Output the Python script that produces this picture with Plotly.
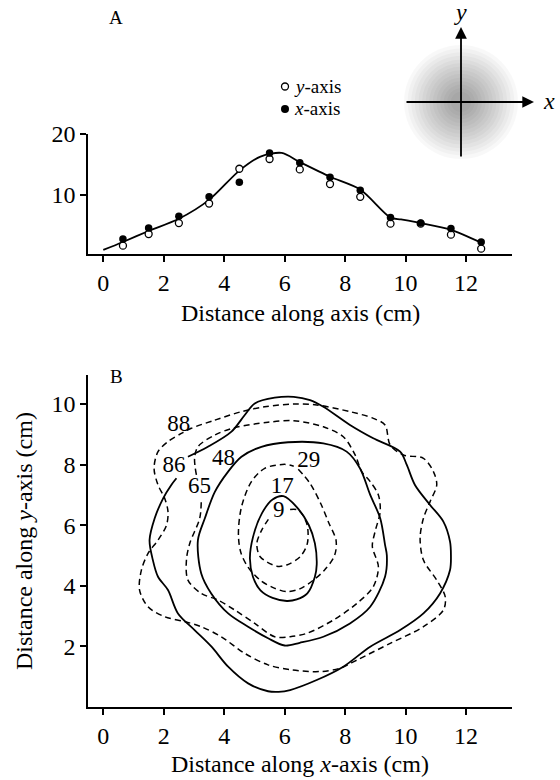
import plotly.graph_objects as go

W, H = 560, 780
FONT = "Liberation Serif, Times New Roman, serif"

# ---------------- Panel A data ----------------
dist_x = [0.65, 1.5, 2.5, 3.5, 4.5, 5.5, 6.5, 7.5, 8.5, 9.5, 10.5, 11.5, 12.5]
x_axis_vals = [2.8, 4.6, 6.5, 9.7, 12.1, 16.9, 15.3, 12.9, 10.8, 6.3, 5.4, 4.5, 2.3]
dist_y = [0.65, 1.5, 2.5, 3.5, 4.5, 5.5, 6.5, 7.5, 8.5, 9.5, 10.5, 11.5, 12.5]
y_axis_vals = [1.7, 3.6, 5.4, 8.6, 14.3, 15.9, 14.2, 11.8, 9.7, 5.3, 5.3, 3.5, 1.2]
fit_x = [0, 0.65, 1.5, 2.5, 3.5, 4.5, 5.2, 5.9, 6.5, 7.5, 8.5, 9.5, 9.85, 10.5, 11.5, 12.5]
fit_y = [1.0, 2.3, 4.1, 6.1, 9.2, 14.0, 16.3, 16.9, 15.4, 13.0, 10.9, 6.3, 6.0, 5.4, 4.3, 2.2]
a_xticks = [0, 2, 4, 6, 8, 10, 12]
a_yticks = [10, 20]

# ---------------- Panel B contour data ----------------
c9_x = [6.18, 6.45, 6.73, 6.75, 6.51, 6.07, 5.74, 5.19, 5.08, 5.24, 5.52]
c9_y = [6.52, 6.5, 6.06, 5.4, 4.96, 4.69, 4.65, 4.96, 5.4, 5.84, 6.28]

c17_x = [5.96, 6.4, 6.8, 7.0, 7.06, 7.0, 6.75, 6.4, 6.07, 5.6, 5.2, 4.95, 4.85, 4.95, 5.25, 5.6, 5.96]
c17_y = [6.96, 6.6, 6.0, 5.4, 4.7, 4.3, 3.75, 3.55, 3.5, 3.6, 3.85, 4.3, 4.9, 5.6, 6.4, 6.85, 6.96]

c29_x = [6.45, 6.84, 7.2, 7.45, 7.7, 7.65, 7.3, 6.95, 6.5, 6.07, 5.6, 5.19, 4.8, 4.55, 4.47, 4.57, 4.9, 5.34, 6.0, 6.3]
c29_y = [7.85, 7.38, 6.7, 6.1, 5.5, 5.0, 4.5, 4.19, 3.9, 3.81, 3.95, 4.19, 4.6, 5.1, 5.7, 6.6, 7.44, 7.88, 8.01, 7.95]

c48_x = [3.36, 3.69, 4.13, 4.57, 5.23, 6.11, 7.28, 8.05, 8.49, 8.83, 9.16, 9.32, 9.38, 9.32, 8.83, 8.16, 7.28,
         6.5, 6.0, 5.45, 4.79, 4.13, 3.57, 3.24, 3.13, 3.36]
c48_y = [6.23, 7.1, 7.77, 8.26, 8.59, 8.74, 8.7, 8.43, 7.88, 7.0, 6.23, 5.35, 5.0, 4.3, 3.31, 2.76, 2.32,
         2.12, 2.03, 2.27, 2.65, 3.09, 3.75, 4.41, 5.51, 6.23]

c65_x = [3.08, 3.02, 3.13, 3.69, 4.35, 5.45, 6.3, 7.28, 7.94, 8.33, 8.55, 8.83, 9.1, 9.16, 8.99, 8.9, 9.1,
         8.93, 8.39, 7.61, 6.73, 6.18, 5.67, 5.01, 4.35, 3.8, 3.24, 2.8, 2.75, 2.86, 3.19, 3.24]
c65_y = [7.66, 8.21, 8.59, 8.98, 9.22, 9.4, 9.45, 9.25, 8.92, 8.32, 7.77, 7.44, 7.0, 6.45, 5.79, 5.3, 4.63,
         3.97, 3.42, 2.87, 2.43, 2.32, 2.32, 2.76, 3.2, 3.53, 3.75, 4.19, 4.85, 5.4, 6.23, 6.78]

c86_x = [2.8, 3.46, 4.24, 4.68, 5.01, 5.67, 6.3, 6.84, 7.28, 8.16, 8.93, 9.82, 10.04, 10.31, 10.81, 11.25,
         11.47, 11.5, 11.47, 11.14, 10.59, 9.82, 8.83, 7.94, 7.06, 6.18, 5.8, 5.45, 4.79, 4.13, 3.58, 3.02,
         2.47, 2.14, 1.81, 1.64, 1.53, 1.7, 1.98, 2.25, 2.42]
c86_y = [8.26, 8.59, 9.09, 9.64, 10.02, 10.21, 10.24, 10.13, 9.91, 9.31, 8.87, 8.43, 7.99, 7.33, 6.67, 6.12,
         5.46, 5.0, 4.52, 3.75, 3.09, 2.54, 1.99, 1.33, 0.89, 0.56, 0.5, 0.52, 0.78, 1.33, 1.99, 2.54,
         3.09, 3.86, 4.3, 4.85, 5.51, 6.23, 6.89, 7.33, 7.55]

c88_x = [2.91, 3.69, 4.57, 5.34, 6.3, 7.06, 8.16, 8.93, 9.32, 9.49, 9.93, 10.59, 10.92, 11.03, 10.81, 10.59,
         10.48, 10.59, 11.03, 11.31, 11.25, 10.59, 9.49, 8.39, 7.83, 7.17, 6.25, 5.45, 4.68, 3.9, 3.24, 2.69,
         2.03, 1.48, 1.2, 1.26, 1.48, 1.81, 2.09, 2.14, 2.03, 1.81, 1.68, 1.81, 2.14, 2.58, 2.91]
c88_y = [9.2, 9.47, 9.75, 9.91, 10.0, 9.97, 9.75, 9.53, 9.31, 8.65, 8.32, 8.21, 7.77, 7.33, 6.78, 6.23,
         5.57, 4.85, 4.19, 3.64, 3.2, 2.65, 2.1, 1.55, 1.28, 1.17, 1.22, 1.39, 1.77, 2.32, 2.65, 2.82,
         2.98, 3.31, 3.86, 4.52, 5.07, 5.51, 6.0, 6.45, 6.89, 7.33, 7.88, 8.43, 8.76, 9.03, 9.2]

contour_labels = ["88", "86", "48", "65", "29", "17", "9"]
label_x = [2.5, 2.34, 3.98, 3.18, 6.8, 5.92, 5.8]
label_y = [9.31, 7.95, 8.18, 7.24, 8.12, 7.27, 6.45]
b_xticks = [0, 2, 4, 6, 8, 10, 12]
b_yticks = [2, 4, 6, 8, 10]


def px(x):
    return x / W


def py(y):
    return 1 - y / H


fig = go.Figure()

# Panel A
fig.add_trace(go.Scatter(x=fit_x, y=fit_y, mode="lines", line=dict(color="black", width=1.8, shape="spline", smoothing=0.8),
                         xaxis="x", yaxis="y", showlegend=False, hoverinfo="skip"))
fig.add_trace(go.Scatter(x=dist_y, y=y_axis_vals, mode="markers", name="y-axis",
                         marker=dict(symbol="circle", size=7, color="white", line=dict(color="black", width=1.3)),
                         xaxis="x", yaxis="y", showlegend=False))
fig.add_trace(go.Scatter(x=dist_x, y=x_axis_vals, mode="markers", name="x-axis",
                         marker=dict(symbol="circle", size=7.5, color="black", line=dict(width=0)),
                         xaxis="x", yaxis="y", showlegend=False))

# Panel B
solid = dict(color="black", width=1.8, shape="spline", smoothing=0.9)
dashed = dict(color="black", width=1.5, shape="spline", smoothing=0.9, dash="6px,4px")
for cx, cy, st in [(c17_x, c17_y, solid), (c48_x, c48_y, solid), (c86_x, c86_y, solid),
                   (c9_x, c9_y, dashed), (c29_x, c29_y, dashed), (c65_x, c65_y, dashed), (c88_x, c88_y, dashed)]:
    fig.add_trace(go.Scatter(x=cx, y=cy, mode="lines", line=st, xaxis="x2", yaxis="y2",
                             showlegend=False, hoverinfo="skip"))
fig.add_trace(go.Scatter(x=label_x, y=label_y, mode="text", text=contour_labels,
                         textfont=dict(family=FONT, size=23, color="black"), xaxis="x2", yaxis="y2",
                         showlegend=False, hoverinfo="skip"))

axis_common = dict(showline=True, linecolor="black", linewidth=1.5, ticks="outside", ticklen=6,
                   tickwidth=1.5, tickcolor="black", showgrid=False, zeroline=False, automargin=False,
                   tickfont=dict(family=FONT, size=24, color="black"))

shapes = []
# inset stipple (radial shading)
cx0, cy0 = 461, 102
for i in range(14):
    r = 57 - i * 3.6
    shapes.append(dict(type="circle", xref="paper", yref="paper",
                       x0=px(cx0 - r), x1=px(cx0 + r), y0=py(cy0 + r), y1=py(cy0 - r),
                       fillcolor="rgba(0,0,0,0.026)", line=dict(width=0), layer="below"))
# legend markers
shapes.append(dict(type="circle", xref="paper", yref="paper", x0=px(281.5), x1=px(288.5),
                   y0=py(90), y1=py(83), fillcolor="white", line=dict(color="black", width=1.3)))
shapes.append(dict(type="circle", xref="paper", yref="paper", x0=px(281), x1=px(289),
                   y0=py(113), y1=py(105), fillcolor="black", line=dict(color="black", width=0)))


def label(text, x, y, size=24, **kw):
    d = dict(text=text, x=px(x), y=py(y), xref="paper", yref="paper", showarrow=False,
             xanchor="center", yanchor="middle", font=dict(family=FONT, size=size, color="black"))
    d.update(kw)
    return d


annotations = [
    label("A", 116, 17, 19),
    label("B", 116, 376, 19),
    label("<i>y</i>-axis", 292, 86, 19, xanchor="left"),
    label("<i>x</i>-axis", 292, 109, 19, xanchor="left"),
    label("Distance along axis (cm)", 300, 313),
    label("Distance along <i>x</i>-axis (cm)", 300, 764),
    label("Distance along <i>y</i>-axis (cm)", 24, 541, textangle=-90),
    # inset arrows
    dict(text="", x=px(461), y=py(27), xref="paper", yref="paper", showarrow=True, ax=0, ay=131,
         arrowhead=2, arrowsize=1.3, arrowwidth=1.8, arrowcolor="black"),
    dict(text="", x=px(534), y=py(102), xref="paper", yref="paper", showarrow=True, ax=-129, ay=0,
         arrowhead=2, arrowsize=1.3, arrowwidth=1.8, arrowcolor="black"),
    label("<i>y</i>", 460, 12),
    label("<i>x</i>", 549, 101),
]

fig.update_layout(
    width=W, height=H, margin=dict(l=0, r=0, t=0, b=0, pad=0, autoexpand=False),
    paper_bgcolor="white", plot_bgcolor="white",
    xaxis=dict(domain=[px(88), px(512)], range=[-0.506, 13.52], tickvals=a_xticks, anchor="y", **axis_common),
    yaxis=dict(domain=[py(254), py(134)], range=[0.33, 20], tickvals=a_yticks, anchor="x", **axis_common),
    xaxis2=dict(domain=[px(88), px(512)], range=[-0.506, 13.52], tickvals=b_xticks, anchor="y2", **axis_common),
    yaxis2=dict(domain=[py(707), py(375)], range=[0, 10.96], tickvals=b_yticks, anchor="x2", **axis_common),
    shapes=shapes, annotations=annotations,
)

fig.write_html("out.html")
